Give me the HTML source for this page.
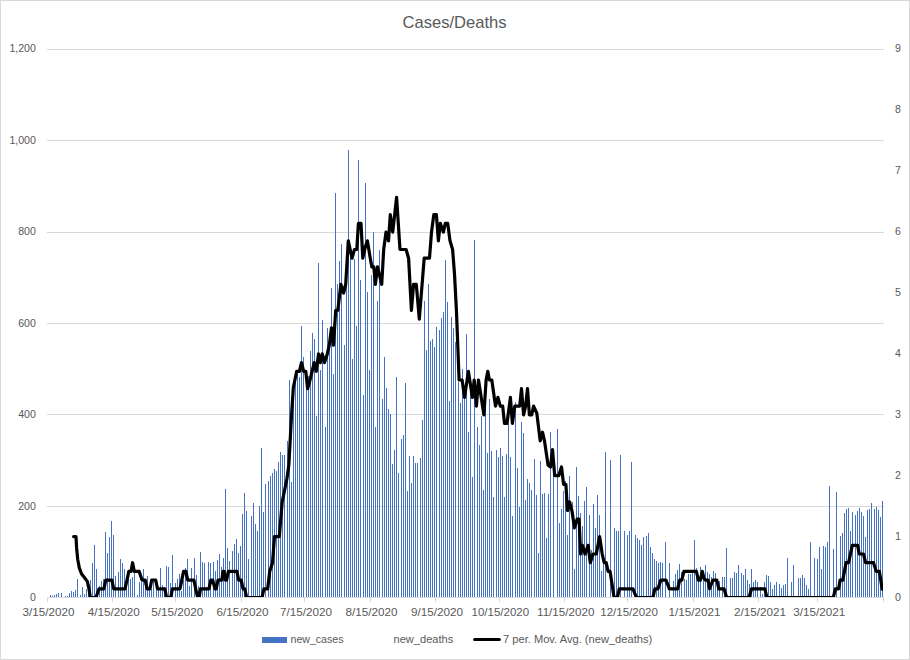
<!DOCTYPE html>
<html><head><meta charset="utf-8"><title>Cases/Deaths</title>
<style>
html,body{margin:0;padding:0;background:#fff;}
body{width:910px;height:660px;overflow:hidden;font-family:"Liberation Sans",sans-serif;}
svg{display:block;}
text{font-family:"Liberation Sans",sans-serif;fill:#595959;}
</style></head><body>
<svg width="910" height="660" viewBox="0 0 910 660">
<rect x="0" y="0" width="910" height="660" fill="#fff"/>
<g fill="#d9d9d9" shape-rendering="crispEdges"><rect x="0" y="0" width="910" height="1"/><rect x="0" y="659" width="910" height="1"/><rect x="0" y="0" width="1" height="660"/><rect x="909" y="0" width="1" height="660"/></g>
<text x="454.5" y="27.6" text-anchor="middle" font-size="16.6" textLength="104" lengthAdjust="spacingAndGlyphs">Cases/Deaths</text>
<g fill="#d9d9d9" shape-rendering="crispEdges"><rect x="47" y="49" width="837" height="1"/><rect x="47" y="140" width="837" height="1"/><rect x="47" y="232" width="837" height="1"/><rect x="47" y="323" width="837" height="1"/><rect x="47" y="414" width="837" height="1"/><rect x="47" y="506" width="837" height="1"/><rect x="47" y="597" width="837" height="1"/><rect x="883" y="598" width="1" height="4"/><rect x="47" y="598" width="1" height="4"/><rect x="112" y="598" width="1" height="4"/><rect x="175" y="598" width="1" height="4"/><rect x="241" y="598" width="1" height="4"/><rect x="304" y="598" width="1" height="4"/><rect x="370" y="598" width="1" height="4"/><rect x="435" y="598" width="1" height="4"/><rect x="499" y="598" width="1" height="4"/><rect x="564" y="598" width="1" height="4"/><rect x="627" y="598" width="1" height="4"/><rect x="693" y="598" width="1" height="4"/><rect x="758" y="598" width="1" height="4"/><rect x="817" y="598" width="1" height="4"/></g>
<g fill="#4472c4" shape-rendering="crispEdges"><rect x="50" y="595" width="1" height="2"/><rect x="52" y="596" width="1" height="1"/><rect x="54" y="595" width="1" height="2"/><rect x="56" y="594" width="1" height="3"/><rect x="58" y="593" width="1" height="4"/><rect x="61" y="593" width="1" height="4"/><rect x="65" y="596" width="1" height="1"/><rect x="67" y="596" width="1" height="1"/><rect x="69" y="593" width="1" height="4"/><rect x="71" y="591" width="1" height="6"/><rect x="73" y="592" width="1" height="5"/><rect x="75" y="590" width="1" height="7"/><rect x="77" y="579" width="1" height="18"/><rect x="80" y="595" width="1" height="2"/><rect x="82" y="587" width="1" height="10"/><rect x="84" y="594" width="1" height="3"/><rect x="86" y="589" width="1" height="8"/><rect x="88" y="592" width="1" height="5"/><rect x="90" y="580" width="1" height="17"/><rect x="92" y="563" width="1" height="34"/><rect x="94" y="545" width="1" height="52"/><rect x="96" y="569" width="1" height="28"/><rect x="99" y="586" width="1" height="11"/><rect x="101" y="581" width="1" height="16"/><rect x="103" y="579" width="1" height="18"/><rect x="105" y="532" width="1" height="65"/><rect x="107" y="553" width="1" height="44"/><rect x="109" y="537" width="1" height="60"/><rect x="111" y="521" width="1" height="76"/><rect x="113" y="535" width="1" height="62"/><rect x="115" y="576" width="1" height="21"/><rect x="118" y="572" width="1" height="25"/><rect x="120" y="559" width="1" height="38"/><rect x="122" y="563" width="1" height="34"/><rect x="124" y="569" width="1" height="28"/><rect x="126" y="579" width="1" height="18"/><rect x="128" y="577" width="1" height="20"/><rect x="130" y="579" width="1" height="18"/><rect x="132" y="577" width="1" height="20"/><rect x="134" y="573" width="1" height="24"/><rect x="137" y="595" width="1" height="2"/><rect x="139" y="582" width="1" height="15"/><rect x="141" y="582" width="1" height="15"/><rect x="143" y="569" width="1" height="28"/><rect x="145" y="580" width="1" height="17"/><rect x="147" y="576" width="1" height="21"/><rect x="149" y="589" width="1" height="8"/><rect x="151" y="589" width="1" height="8"/><rect x="153" y="582" width="1" height="15"/><rect x="156" y="590" width="1" height="7"/><rect x="158" y="590" width="1" height="7"/><rect x="160" y="568" width="1" height="29"/><rect x="162" y="585" width="1" height="12"/><rect x="164" y="587" width="1" height="10"/><rect x="166" y="566" width="1" height="31"/><rect x="168" y="567" width="1" height="30"/><rect x="170" y="583" width="1" height="14"/><rect x="172" y="555" width="1" height="42"/><rect x="175" y="583" width="1" height="14"/><rect x="177" y="579" width="1" height="18"/><rect x="179" y="574" width="1" height="23"/><rect x="181" y="591" width="1" height="6"/><rect x="183" y="580" width="1" height="17"/><rect x="185" y="568" width="1" height="29"/><rect x="187" y="559" width="1" height="38"/><rect x="189" y="586" width="1" height="11"/><rect x="191" y="568" width="1" height="29"/><rect x="194" y="558" width="1" height="39"/><rect x="196" y="575" width="1" height="22"/><rect x="198" y="586" width="1" height="11"/><rect x="200" y="552" width="1" height="45"/><rect x="202" y="562" width="1" height="35"/><rect x="204" y="563" width="1" height="34"/><rect x="206" y="587" width="1" height="10"/><rect x="208" y="562" width="1" height="35"/><rect x="210" y="563" width="1" height="34"/><rect x="213" y="562" width="1" height="35"/><rect x="215" y="571" width="1" height="26"/><rect x="217" y="560" width="1" height="37"/><rect x="219" y="554" width="1" height="43"/><rect x="221" y="567" width="1" height="30"/><rect x="223" y="558" width="1" height="39"/><rect x="225" y="489" width="1" height="108"/><rect x="227" y="548" width="1" height="49"/><rect x="229" y="561" width="1" height="36"/><rect x="232" y="551" width="1" height="46"/><rect x="234" y="544" width="1" height="53"/><rect x="236" y="539" width="1" height="58"/><rect x="238" y="553" width="1" height="44"/><rect x="240" y="546" width="1" height="51"/><rect x="242" y="514" width="1" height="83"/><rect x="244" y="493" width="1" height="104"/><rect x="246" y="511" width="1" height="86"/><rect x="248" y="559" width="1" height="38"/><rect x="251" y="516" width="1" height="81"/><rect x="253" y="503" width="1" height="94"/><rect x="255" y="524" width="1" height="73"/><rect x="257" y="531" width="1" height="66"/><rect x="259" y="506" width="1" height="91"/><rect x="261" y="448" width="1" height="149"/><rect x="263" y="512" width="1" height="85"/><rect x="265" y="484" width="1" height="113"/><rect x="268" y="481" width="1" height="116"/><rect x="270" y="476" width="1" height="121"/><rect x="272" y="473" width="1" height="124"/><rect x="274" y="469" width="1" height="128"/><rect x="276" y="471" width="1" height="126"/><rect x="278" y="462" width="1" height="135"/><rect x="280" y="452" width="1" height="145"/><rect x="282" y="455" width="1" height="142"/><rect x="284" y="455" width="1" height="142"/><rect x="287" y="441" width="1" height="156"/><rect x="289" y="380" width="1" height="217"/><rect x="291" y="482" width="1" height="115"/><rect x="293" y="382" width="1" height="215"/><rect x="295" y="373" width="1" height="224"/><rect x="297" y="372" width="1" height="225"/><rect x="299" y="377" width="1" height="220"/><rect x="301" y="326" width="1" height="271"/><rect x="303" y="357" width="1" height="240"/><rect x="306" y="382" width="1" height="215"/><rect x="308" y="376" width="1" height="221"/><rect x="310" y="351" width="1" height="246"/><rect x="312" y="333" width="1" height="264"/><rect x="314" y="339" width="1" height="258"/><rect x="316" y="416" width="1" height="181"/><rect x="318" y="263" width="1" height="334"/><rect x="320" y="370" width="1" height="227"/><rect x="322" y="320" width="1" height="277"/><rect x="325" y="427" width="1" height="170"/><rect x="327" y="328" width="1" height="269"/><rect x="329" y="342" width="1" height="255"/><rect x="331" y="288" width="1" height="309"/><rect x="333" y="374" width="1" height="223"/><rect x="335" y="193" width="1" height="404"/><rect x="337" y="284" width="1" height="313"/><rect x="339" y="261" width="1" height="336"/><rect x="341" y="244" width="1" height="353"/><rect x="344" y="345" width="1" height="252"/><rect x="346" y="267" width="1" height="330"/><rect x="348" y="150" width="1" height="447"/><rect x="350" y="257" width="1" height="340"/><rect x="352" y="359" width="1" height="238"/><rect x="354" y="259" width="1" height="338"/><rect x="356" y="326" width="1" height="271"/><rect x="358" y="160" width="1" height="437"/><rect x="360" y="280" width="1" height="317"/><rect x="363" y="395" width="1" height="202"/><rect x="365" y="183" width="1" height="414"/><rect x="367" y="292" width="1" height="305"/><rect x="369" y="370" width="1" height="227"/><rect x="371" y="275" width="1" height="322"/><rect x="373" y="232" width="1" height="365"/><rect x="375" y="427" width="1" height="170"/><rect x="377" y="301" width="1" height="296"/><rect x="379" y="250" width="1" height="347"/><rect x="382" y="399" width="1" height="198"/><rect x="384" y="357" width="1" height="240"/><rect x="386" y="388" width="1" height="209"/><rect x="388" y="409" width="1" height="188"/><rect x="390" y="414" width="1" height="183"/><rect x="392" y="464" width="1" height="133"/><rect x="394" y="450" width="1" height="147"/><rect x="396" y="377" width="1" height="220"/><rect x="398" y="473" width="1" height="124"/><rect x="401" y="439" width="1" height="158"/><rect x="403" y="435" width="1" height="162"/><rect x="405" y="383" width="1" height="214"/><rect x="407" y="491" width="1" height="106"/><rect x="409" y="456" width="1" height="141"/><rect x="411" y="483" width="1" height="114"/><rect x="413" y="456" width="1" height="141"/><rect x="415" y="463" width="1" height="134"/><rect x="417" y="463" width="1" height="134"/><rect x="420" y="458" width="1" height="139"/><rect x="422" y="420" width="1" height="177"/><rect x="424" y="301" width="1" height="296"/><rect x="426" y="350" width="1" height="247"/><rect x="428" y="284" width="1" height="313"/><rect x="430" y="341" width="1" height="256"/><rect x="432" y="339" width="1" height="258"/><rect x="434" y="347" width="1" height="250"/><rect x="436" y="327" width="1" height="270"/><rect x="439" y="330" width="1" height="267"/><rect x="441" y="318" width="1" height="279"/><rect x="443" y="312" width="1" height="285"/><rect x="445" y="260" width="1" height="337"/><rect x="447" y="302" width="1" height="295"/><rect x="449" y="401" width="1" height="196"/><rect x="451" y="317" width="1" height="280"/><rect x="453" y="328" width="1" height="269"/><rect x="455" y="342" width="1" height="255"/><rect x="458" y="382" width="1" height="215"/><rect x="460" y="403" width="1" height="194"/><rect x="462" y="369" width="1" height="228"/><rect x="464" y="397" width="1" height="200"/><rect x="466" y="334" width="1" height="263"/><rect x="468" y="432" width="1" height="165"/><rect x="470" y="392" width="1" height="205"/><rect x="472" y="477" width="1" height="120"/><rect x="474" y="240" width="1" height="357"/><rect x="477" y="427" width="1" height="170"/><rect x="479" y="445" width="1" height="152"/><rect x="481" y="416" width="1" height="181"/><rect x="483" y="490" width="1" height="107"/><rect x="485" y="407" width="1" height="190"/><rect x="487" y="453" width="1" height="144"/><rect x="489" y="399" width="1" height="198"/><rect x="491" y="451" width="1" height="146"/><rect x="493" y="497" width="1" height="100"/><rect x="496" y="450" width="1" height="147"/><rect x="498" y="457" width="1" height="140"/><rect x="500" y="448" width="1" height="149"/><rect x="502" y="456" width="1" height="141"/><rect x="504" y="497" width="1" height="100"/><rect x="506" y="454" width="1" height="143"/><rect x="508" y="423" width="1" height="174"/><rect x="510" y="457" width="1" height="140"/><rect x="512" y="516" width="1" height="81"/><rect x="515" y="402" width="1" height="195"/><rect x="517" y="468" width="1" height="129"/><rect x="519" y="507" width="1" height="90"/><rect x="521" y="422" width="1" height="175"/><rect x="523" y="433" width="1" height="164"/><rect x="525" y="500" width="1" height="97"/><rect x="527" y="479" width="1" height="118"/><rect x="529" y="483" width="1" height="114"/><rect x="531" y="490" width="1" height="107"/><rect x="534" y="459" width="1" height="138"/><rect x="536" y="495" width="1" height="102"/><rect x="538" y="553" width="1" height="44"/><rect x="540" y="461" width="1" height="136"/><rect x="542" y="494" width="1" height="103"/><rect x="544" y="493" width="1" height="104"/><rect x="546" y="538" width="1" height="59"/><rect x="548" y="494" width="1" height="103"/><rect x="550" y="432" width="1" height="165"/><rect x="553" y="457" width="1" height="140"/><rect x="557" y="429" width="1" height="168"/><rect x="559" y="523" width="1" height="74"/><rect x="561" y="509" width="1" height="88"/><rect x="563" y="491" width="1" height="106"/><rect x="565" y="481" width="1" height="116"/><rect x="567" y="535" width="1" height="62"/><rect x="569" y="476" width="1" height="121"/><rect x="572" y="502" width="1" height="95"/><rect x="574" y="569" width="1" height="28"/><rect x="576" y="467" width="1" height="130"/><rect x="578" y="496" width="1" height="101"/><rect x="580" y="513" width="1" height="84"/><rect x="582" y="526" width="1" height="71"/><rect x="584" y="501" width="1" height="96"/><rect x="586" y="487" width="1" height="110"/><rect x="589" y="515" width="1" height="82"/><rect x="591" y="550" width="1" height="47"/><rect x="593" y="504" width="1" height="93"/><rect x="595" y="528" width="1" height="69"/><rect x="597" y="495" width="1" height="102"/><rect x="599" y="515" width="1" height="82"/><rect x="601" y="571" width="1" height="26"/><rect x="603" y="560" width="1" height="37"/><rect x="605" y="452" width="1" height="145"/><rect x="610" y="460" width="1" height="137"/><rect x="614" y="528" width="1" height="69"/><rect x="616" y="531" width="1" height="66"/><rect x="618" y="531" width="1" height="66"/><rect x="620" y="455" width="1" height="142"/><rect x="624" y="531" width="1" height="66"/><rect x="627" y="535" width="1" height="62"/><rect x="629" y="531" width="1" height="66"/><rect x="631" y="462" width="1" height="135"/><rect x="635" y="535" width="1" height="62"/><rect x="637" y="538" width="1" height="59"/><rect x="639" y="540" width="1" height="57"/><rect x="641" y="545" width="1" height="52"/><rect x="643" y="537" width="1" height="60"/><rect x="646" y="536" width="1" height="61"/><rect x="648" y="533" width="1" height="64"/><rect x="650" y="547" width="1" height="50"/><rect x="652" y="553" width="1" height="44"/><rect x="654" y="559" width="1" height="38"/><rect x="656" y="561" width="1" height="36"/><rect x="658" y="563" width="1" height="34"/><rect x="660" y="562" width="1" height="35"/><rect x="662" y="563" width="1" height="34"/><rect x="665" y="542" width="1" height="55"/><rect x="669" y="563" width="1" height="34"/><rect x="673" y="581" width="1" height="16"/><rect x="675" y="574" width="1" height="23"/><rect x="677" y="570" width="1" height="27"/><rect x="679" y="564" width="1" height="33"/><rect x="681" y="572" width="1" height="25"/><rect x="684" y="579" width="1" height="18"/><rect x="686" y="580" width="1" height="17"/><rect x="688" y="574" width="1" height="23"/><rect x="690" y="574" width="1" height="23"/><rect x="692" y="571" width="1" height="26"/><rect x="694" y="540" width="1" height="57"/><rect x="696" y="568" width="1" height="29"/><rect x="698" y="577" width="1" height="20"/><rect x="700" y="567" width="1" height="30"/><rect x="703" y="577" width="1" height="20"/><rect x="705" y="565" width="1" height="32"/><rect x="707" y="572" width="1" height="25"/><rect x="709" y="574" width="1" height="23"/><rect x="711" y="577" width="1" height="20"/><rect x="713" y="571" width="1" height="26"/><rect x="715" y="573" width="1" height="24"/><rect x="717" y="579" width="1" height="18"/><rect x="719" y="581" width="1" height="16"/><rect x="722" y="577" width="1" height="20"/><rect x="724" y="577" width="1" height="20"/><rect x="726" y="548" width="1" height="49"/><rect x="730" y="578" width="1" height="19"/><rect x="732" y="578" width="1" height="19"/><rect x="734" y="572" width="1" height="25"/><rect x="736" y="573" width="1" height="24"/><rect x="738" y="565" width="1" height="32"/><rect x="741" y="573" width="1" height="24"/><rect x="743" y="575" width="1" height="22"/><rect x="745" y="569" width="1" height="28"/><rect x="747" y="580" width="1" height="17"/><rect x="749" y="584" width="1" height="13"/><rect x="751" y="569" width="1" height="28"/><rect x="753" y="582" width="1" height="15"/><rect x="755" y="580" width="1" height="17"/><rect x="757" y="582" width="1" height="15"/><rect x="760" y="587" width="1" height="10"/><rect x="762" y="594" width="1" height="3"/><rect x="764" y="582" width="1" height="15"/><rect x="766" y="575" width="1" height="22"/><rect x="768" y="576" width="1" height="21"/><rect x="770" y="582" width="1" height="15"/><rect x="772" y="589" width="1" height="8"/><rect x="774" y="585" width="1" height="12"/><rect x="776" y="582" width="1" height="15"/><rect x="779" y="584" width="1" height="13"/><rect x="781" y="588" width="1" height="9"/><rect x="783" y="585" width="1" height="12"/><rect x="785" y="584" width="1" height="13"/><rect x="787" y="558" width="1" height="39"/><rect x="791" y="582" width="1" height="15"/><rect x="793" y="565" width="1" height="32"/><rect x="798" y="578" width="1" height="19"/><rect x="800" y="578" width="1" height="19"/><rect x="802" y="575" width="1" height="22"/><rect x="804" y="578" width="1" height="19"/><rect x="806" y="585" width="1" height="12"/><rect x="808" y="589" width="1" height="8"/><rect x="810" y="542" width="1" height="55"/><rect x="814" y="558" width="1" height="39"/><rect x="817" y="559" width="1" height="38"/><rect x="819" y="547" width="1" height="50"/><rect x="821" y="569" width="1" height="28"/><rect x="823" y="546" width="1" height="51"/><rect x="825" y="547" width="1" height="50"/><rect x="827" y="542" width="1" height="55"/><rect x="829" y="486" width="1" height="111"/><rect x="833" y="549" width="1" height="48"/><rect x="836" y="492" width="1" height="105"/><rect x="840" y="536" width="1" height="61"/><rect x="842" y="533" width="1" height="64"/><rect x="844" y="513" width="1" height="84"/><rect x="846" y="509" width="1" height="88"/><rect x="848" y="508" width="1" height="89"/><rect x="850" y="531" width="1" height="66"/><rect x="852" y="512" width="1" height="85"/><rect x="855" y="515" width="1" height="82"/><rect x="857" y="511" width="1" height="86"/><rect x="859" y="508" width="1" height="89"/><rect x="861" y="512" width="1" height="85"/><rect x="863" y="516" width="1" height="81"/><rect x="865" y="537" width="1" height="60"/><rect x="867" y="510" width="1" height="87"/><rect x="869" y="509" width="1" height="88"/><rect x="871" y="503" width="1" height="94"/><rect x="874" y="509" width="1" height="88"/><rect x="876" y="507" width="1" height="90"/><rect x="878" y="510" width="1" height="87"/><rect x="880" y="517" width="1" height="80"/><rect x="882" y="501" width="1" height="96"/></g>
<clipPath id="pa"><rect x="47" y="40" width="836" height="557"/></clipPath>
<g clip-path="url(#pa)"><polyline points="73.6,536.6 76.0,536.6 76.6,547.9 77.7,559.2 79.3,567.9 81.6,574.0 84.4,577.5 87.3,581.4 89.0,588.8 90.3,597.5 96.0,597.5 99.0,588.8 104.0,588.8 105.8,580.1 111.9,580.1 113.7,588.8 125.0,588.8 127.0,580.1 128.8,571.4 131.0,571.4 132.6,562.7 134.3,571.4 139.2,571.4 142.0,580.1 145.2,580.1 147.0,588.8 150.0,588.8 151.7,580.1 155.7,580.1 157.5,588.8 164.8,588.8 166.6,597.5 170.8,597.5 172.4,588.8 180.0,588.8 181.8,580.1 183.6,571.4 185.8,571.4 187.8,580.1 193.9,580.1 195.7,588.8 197.5,596.6 199.3,596.6 200.5,588.8 209.0,588.8 210.8,580.1 212.7,580.1 215.0,588.8 216.2,588.8 218.0,580.1 221.8,580.1 223.0,571.4 224.2,571.4 225.4,580.1 226.6,580.1 228.4,571.4 236.9,571.4 238.7,580.1 241.2,580.1 243.0,588.8 244.8,588.8 246.6,597.5 262.0,597.5 263.9,588.8 267.7,588.8 269.7,571.4 272.5,562.7 274.5,536.6 279.3,536.6 282.2,501.8 284.0,493.1 287.0,478.3 288.9,464.4 291.3,419.1 293.3,387.8 296.7,371.3 299.4,371.3 301.5,362.6 303.7,371.3 305.8,371.3 307.6,388.7 310.0,380.0 314.2,362.6 316.3,371.3 318.5,353.9 320.4,362.6 322.3,353.9 324.5,362.6 327.3,353.9 329.3,345.2 331.5,327.8 333.5,345.2 335.7,310.4 337.8,310.4 340.9,284.3 343.6,293.0 345.7,284.3 348.3,240.8 352.0,258.2 354.5,249.5 356.8,249.5 358.4,223.4 361.0,223.4 362.8,258.2 365.3,246.9 367.4,240.8 369.8,255.6 371.8,266.9 373.8,266.9 375.4,284.3 377.5,266.9 379.6,275.6 381.7,284.3 383.7,249.5 386.0,232.1 388.5,240.8 390.3,214.7 392.7,232.1 396.6,197.3 400.0,249.5 406.1,249.5 408.6,258.2 411.4,310.4 413.6,284.3 416.3,284.3 419.3,319.1 424.2,258.2 429.5,258.2 431.5,232.1 433.8,214.7 436.4,214.7 438.4,240.8 440.3,223.4 443.4,232.1 445.3,223.4 447.7,223.4 450.0,240.8 452.6,249.5 454.5,273.9 456.5,312.1 459.1,380.0 462.1,380.0 464.5,397.4 468.4,371.3 472.4,397.4 474.2,380.0 476.4,406.1 478.5,380.0 483.9,414.8 486.1,380.0 487.8,371.3 489.4,380.0 491.8,380.0 495.5,406.1 497.9,397.4 500.3,406.1 502.7,406.1 504.5,423.5 507.0,423.5 510.4,397.4 512.4,423.5 514.8,406.1 519.7,406.1 521.5,388.7 523.6,414.8 525.6,406.1 527.5,388.7 529.4,414.8 531.7,414.8 533.6,406.1 536.8,413.1 540.2,440.9 542.5,432.2 544.5,440.9 548.1,465.3 550.5,467.0 552.5,449.6 554.7,475.7 558.7,475.7 561.5,467.0 563.6,484.4 565.9,484.4 567.5,510.5 569.6,501.8 571.9,510.5 574.5,527.9 577.1,519.2 579.1,519.2 580.6,554.0 582.4,545.3 585.0,554.0 588.1,545.3 590.3,562.7 593.0,554.0 596.3,554.0 599.6,536.6 602.2,554.0 604.2,562.7 606.2,562.7 608.1,571.4 610.1,571.4 614.1,597.5 617.4,597.5 619.3,588.8 633.0,588.8 636.4,597.5 652.9,597.5 654.9,588.8 658.0,588.8 660.8,580.1 666.0,580.1 669.4,588.8 677.6,588.8 679.7,580.1 681.8,580.1 683.9,571.4 696.4,571.4 698.4,580.1 700.4,580.1 702.3,571.4 704.0,578.4 705.6,580.1 708.0,580.1 709.6,588.8 711.2,584.5 712.9,580.1 716.8,580.1 718.8,588.8 724.0,588.8 726.7,597.5 749.1,597.5 751.5,588.8 764.9,588.8 766.9,597.5 833.3,597.5 835.4,588.8 838.6,588.8 840.1,580.1 842.8,580.1 846.0,562.7 848.6,562.7 852.3,545.3 857.6,545.3 859.2,554.0 863.5,554.0 865.6,562.7 873.5,562.7 876.2,571.4 879.4,571.4 882.2,589.2" fill="none" stroke="#000" stroke-width="3.2" stroke-linejoin="round" stroke-linecap="round"/></g>
<g font-size="10.6"><text x="35.9" y="52.4" text-anchor="end">1,200</text><text x="35.9" y="143.9" text-anchor="end">1,000</text><text x="35.9" y="235.4" text-anchor="end">800</text><text x="35.9" y="326.8" text-anchor="end">600</text><text x="35.9" y="418.3" text-anchor="end">400</text><text x="35.9" y="509.8" text-anchor="end">200</text><text x="35.9" y="601.3" text-anchor="end">0</text><text x="895.0" y="601.4">0</text><text x="895.0" y="540.4">1</text><text x="895.0" y="479.4">2</text><text x="895.0" y="418.4">3</text><text x="895.0" y="357.4">4</text><text x="895.0" y="296.4">5</text><text x="895.0" y="235.4">6</text><text x="895.0" y="174.4">7</text><text x="895.0" y="113.4">8</text><text x="895.0" y="52.4">9</text><text x="22.4" y="616.1" font-size="11" textLength="52.0" lengthAdjust="spacingAndGlyphs">3/15/2020</text><text x="87.8" y="616.1" font-size="11" textLength="52.0" lengthAdjust="spacingAndGlyphs">4/15/2020</text><text x="151.2" y="616.1" font-size="11" textLength="52.0" lengthAdjust="spacingAndGlyphs">5/15/2020</text><text x="216.6" y="616.1" font-size="11" textLength="52.0" lengthAdjust="spacingAndGlyphs">6/15/2020</text><text x="280.0" y="616.1" font-size="11" textLength="52.0" lengthAdjust="spacingAndGlyphs">7/15/2020</text><text x="345.5" y="616.1" font-size="11" textLength="52.0" lengthAdjust="spacingAndGlyphs">8/15/2020</text><text x="410.9" y="616.1" font-size="11" textLength="52.0" lengthAdjust="spacingAndGlyphs">9/15/2020</text><text x="471.5" y="616.1" font-size="11" textLength="57.6" lengthAdjust="spacingAndGlyphs">10/15/2020</text><text x="537.0" y="616.1" font-size="11" textLength="57.6" lengthAdjust="spacingAndGlyphs">11/15/2020</text><text x="600.3" y="616.1" font-size="11" textLength="57.6" lengthAdjust="spacingAndGlyphs">12/15/2020</text><text x="668.6" y="616.1" font-size="11" textLength="52.0" lengthAdjust="spacingAndGlyphs">1/15/2021</text><text x="734.0" y="616.1" font-size="11" textLength="52.0" lengthAdjust="spacingAndGlyphs">2/15/2021</text><text x="793.2" y="616.1" font-size="11" textLength="52.0" lengthAdjust="spacingAndGlyphs">3/15/2021</text></g>
<rect x="262" y="637" width="25" height="6" fill="#4472c4" shape-rendering="crispEdges"/>
<line x1="474.6" y1="639.5" x2="499.4" y2="639.5" stroke="#000" stroke-width="3.0" stroke-linecap="round"/>
<g font-size="10.6">
<text x="290.5" y="643.2">new_cases</text>
<text x="393.5" y="643.2" textLength="59.8" lengthAdjust="spacingAndGlyphs">new_deaths</text>
<text x="503" y="643.2" textLength="149.2" lengthAdjust="spacingAndGlyphs">7 per. Mov. Avg. (new_deaths)</text>
</g>
</svg>
</body></html>
